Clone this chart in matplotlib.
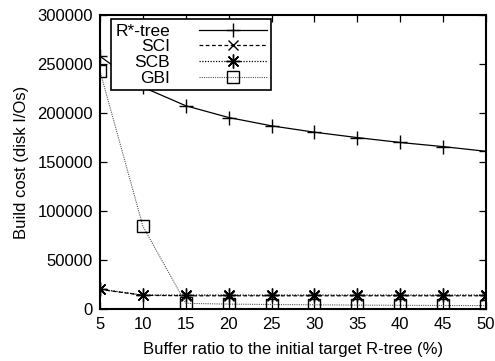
import matplotlib
matplotlib.use("Agg")
import matplotlib.pyplot as plt

# ============================== data ==============================
ratio = [5, 10, 15, 20, 25, 30, 35, 40, 45, 50]
rstar = [258000, 226500, 207500, 195500, 187000, 180500, 175000, 170000, 165800, 161000]
sci = [20000, 14000, 13500, 13500, 13500, 13500, 13500, 13500, 13500, 13500]
scb = [20300, 14200, 14200, 14200, 14200, 14200, 14200, 14200, 14200, 14200]
gbi = [243000, 84500, 5800, 5000, 4600, 4300, 4000, 3800, 3600, 3500]
y_ticks = [0, 50000, 100000, 150000, 200000, 250000, 300000]

plt.rcParams['font.family'] = ['Liberation Sans', 'DejaVu Sans']
plt.rcParams['font.size'] = 12

fig = plt.figure(figsize=(4.95, 3.61), dpi=100)
ax = fig.add_axes([0.202, 0.144, 0.78, 0.814])

ax.plot(ratio, rstar, color="black", linestyle="-", linewidth=0.9,
        marker="+", markersize=10, markeredgewidth=1.0, label="R*-tree")
ax.plot(ratio, sci, color="black", linestyle=(0, (3, 2)), linewidth=0.9,
        marker="x", markersize=7, markeredgewidth=1.0, label="SCI")
ax.plot(ratio, scb, color="black", linestyle=(0, (1, 1.2)), linewidth=0.9,
        marker=(8, 2, 0), markersize=10, markeredgewidth=1.0, label="SCB")
ax.plot(ratio, gbi, color="#555555", linestyle=(0, (1, 1)), linewidth=0.8,
        marker="s", markersize=8, markerfacecolor="none",
        markeredgecolor="black", markeredgewidth=1.0, label="GBI")

ax.set_xlim(5, 50)
ax.set_ylim(0, 300000)
ax.set_xticks(ratio)
ax.set_yticks(y_ticks)
ax.tick_params(direction="in", top=True, right=True, length=5, width=0.9)
ax.tick_params(axis="y", pad=5)
ax.tick_params(axis="x", pad=6)
for s in ax.spines.values():
    s.set_linewidth(1.5)

ax.set_xlabel("Buffer ratio to the initial target R-tree (%)", labelpad=7)
ax.set_ylabel("Build cost (disk I/Os)", labelpad=6)

# markerfirst=False puts the text left of the sample, right-aligned
leg = ax.legend(loc="upper left", bbox_to_anchor=(0.028, 0.986), markerfirst=False,
                fancybox=False, edgecolor="black", framealpha=1,
                borderpad=0.25, labelspacing=0.03, handlelength=3.9,
                handletextpad=1.7, borderaxespad=0, fontsize=12.5)
leg.get_frame().set_linewidth(1.2)

fig.savefig("out.png", dpi=100)
